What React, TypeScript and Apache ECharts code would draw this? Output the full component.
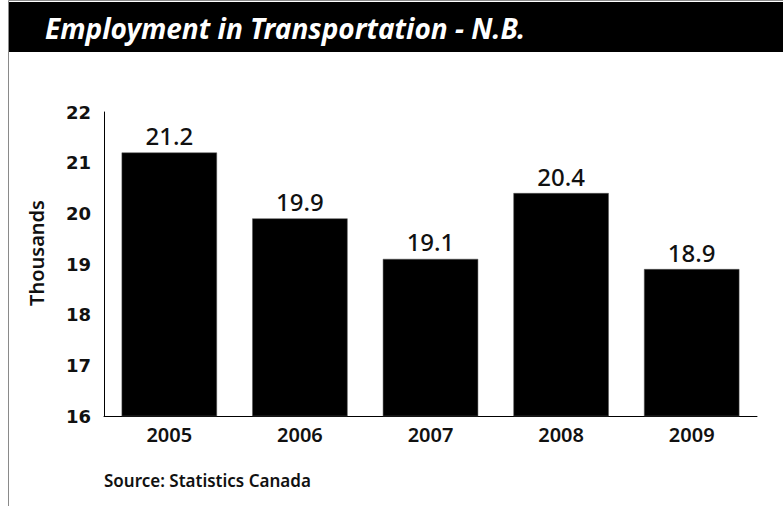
import React, { useEffect, useRef } from "react";
import * as echarts from "echarts";

const years = ["2005", "2006", "2007", "2008", "2009"];
const employment = [21.2, 19.9, 19.1, 20.4, 18.9];
const yMin = 16;
const yMax = 22;
const yStep = 1;
const titleText = "Employment in Transportation - N.B.";
const yAxisName = "Thousands";
const sourceText = "Source: Statistics Canada";

export default function App() {
  const ref = useRef<HTMLDivElement>(null);
  useEffect(() => {
    if (!ref.current) return;
    const chart = echarts.init(ref.current, null, { renderer: "svg" });
    chart.setOption({
      animation: false,
      backgroundColor: "#ffffff",
      graphic: [
        {
          type: "rect",
          shape: { x: 8.5, y: 0.5, width: 800, height: 520 },
          style: { fill: "none", stroke: "#8a8a8a", lineWidth: 1 },
          z: 0,
        },
        {
          type: "rect",
          shape: { x: 9, y: 2, width: 774, height: 50 },
          style: { fill: "#000000" },
          z: 1,
        },
        {
          type: "text",
          x: 45,
          y: 28,
          z: 2,
          style: {
            text: titleText,
            fill: "#ffffff",
            font: "italic bold 28px 'Noto Sans'",
            verticalAlign: "middle",
          },
        },
        {
          type: "text",
          x: 104,
          y: 480,
          style: {
            text: sourceText,
            fill: "#111111",
            font: "600 17px 'Noto Sans'",
            verticalAlign: "middle",
          },
        },
        {
          type: "text",
          x: 36,
          y: 253,
          rotation: Math.PI / 2,
          style: {
            text: yAxisName,
            fill: "#111111",
            font: "600 20px 'Noto Sans'",
            align: "center",
            verticalAlign: "middle",
          },
        },
      ],
      grid: { left: 104, right: 26, top: 112, bottom: 90, containLabel: false },
      xAxis: {
        type: "category",
        data: years,
        axisLine: { show: true, lineStyle: { color: "#000", width: 1 } },
        axisTick: { show: false },
        axisLabel: {
          color: "#111",
          fontFamily: "Noto Sans",
          fontWeight: 600,
          fontSize: 20,
          margin: 8,
        },
      },
      yAxis: {
        type: "value",
        min: yMin,
        max: yMax,
        interval: yStep,
        splitLine: { show: false },
        axisLine: { show: true, lineStyle: { color: "#000", width: 1 } },
        axisTick: { show: false },
        axisLabel: {
          color: "#111",
          fontFamily: "DejaVu Sans",
          fontWeight: "bold",
          fontSize: 18,
          margin: 13,
        },
      },
      series: [
        {
          type: "bar",
          data: employment,
          barWidth: "73%",
          itemStyle: { color: "#000000", borderColor: "#555", borderWidth: 0.5 },
          label: {
            show: true,
            position: "top",
            distance: 5,
            color: "#111",
            fontFamily: "Noto Sans",
            fontWeight: 500,
            fontSize: 24,
            formatter: (p: any) => p.value.toFixed(1),
          },
        },
      ],
    });
    return () => chart.dispose();
  }, []);
  return (
    <div
      ref={ref}
      style={{ position: "fixed", left: 0, top: 0, width: 783, height: 506 }}
    />
  );
}
